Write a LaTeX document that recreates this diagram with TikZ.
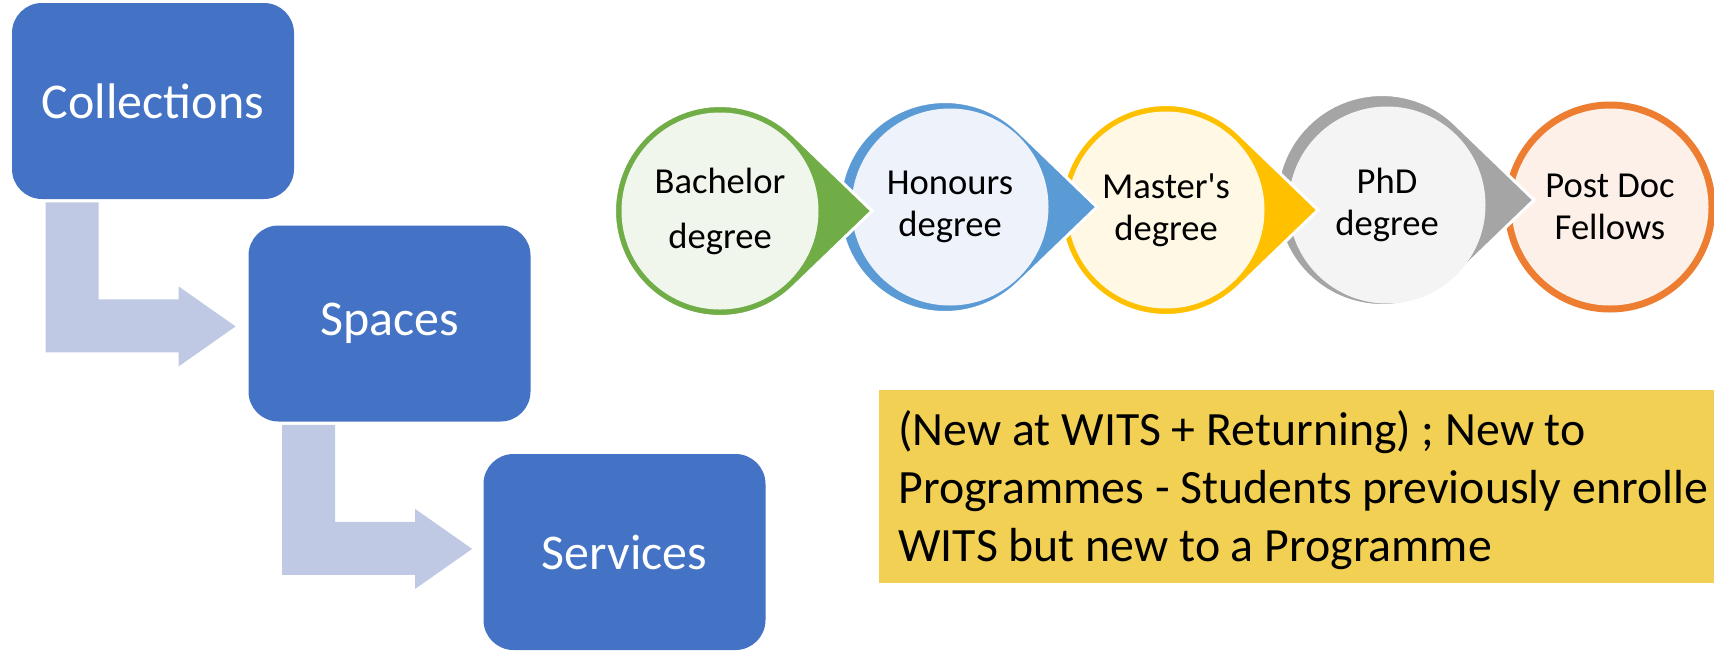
\documentclass[tikz,border=0pt]{standalone}
\usepackage{fontspec}
\setmainfont{Carlito}
\usetikzlibrary{calc,positioning}
\definecolor{boxblue}{HTML}{4472C4}
\definecolor{arrowblue}{HTML}{BFC9E4}
\definecolor{notegold}{HTML}{F2D053}
\definecolor{ring-bach}{HTML}{70AD47}
\definecolor{fill-bach}{HTML}{F0F6EC}
\definecolor{ring-hon}{HTML}{5B9BD5}
\definecolor{fill-hon}{HTML}{EEF3FB}
\definecolor{ring-mas}{HTML}{FFC000}
\definecolor{fill-mas}{HTML}{FFF8E4}
\definecolor{ring-phd}{HTML}{A5A5A5}
\definecolor{fill-phd}{HTML}{F4F4F4}
\definecolor{ring-post}{HTML}{ED7D31}
\definecolor{fill-post}{HTML}{FDF0E8}
\tikzset{
   area/.style={fill=boxblue, rounded corners=15pt, inner sep=0pt, minimum width=141pt, minimum height=98pt, text=white, font=\fontsize{25}{30}\selectfont},
   bentfill/.style={fill=arrowblue},
   stage/.style={circle, inner sep=0pt, minimum size=98.5pt, align=center},
   drop/.style={draw=white, line width=1.5pt},
   note/.style={fill=notegold, inner sep=0pt}
}
% bent block arrow hanging under a box
\newcommand{\bentarrow}[1]{\fill[bentfill] ($(#1.south west)+(34,3)$) -- ++(53,0) -- ++(0,97) -- ++(80,0) -- ++(0,-13) -- ++(57,40) -- ++(-57,40) -- ++(0,-14) -- ++(-133,0) -- cycle;}
\begin{document}
\begin{tikzpicture}[x=0.5pt,y=-0.5pt]
   \path[use as bounding box] (0,0) rectangle (1714,650);
   \clip (0,0) rectangle (1714,650);
       % left: the three blue boxes
          \node[area] (coll) at (153,101) {Collections};
          \node[area] (spaces) at (389.5,323.5) {Spaces};
          \node[area] (services) at (624.5,552) {Services};
   \bentarrow{coll}
   \bentarrow{spaces}
       % right: degree chain, drawn from the right so each tip lies on top
          \coordinate (posto) at (1610,207);
          \fill[ring-post] (posto) circle[radius=105.5];
          \node[stage, fill=fill-post, font=\fontsize{18.3}{21}\selectfont] (post) at (posto) {Post Doc\\Fellows};
                    \foreach \nm/\px/\py/\ox/\oy/\ls/\txt in {phd/1387/205/-5/-5/21/{PhD\\degree},
                       mas/1166/210/0/0/21/{Master\textquotesingle s\\degree},
                       hon/950/207/-5/0/21/{Honours\\degree},
                       bach/720/211/0/0/27.5/{Bachelor\\degree}}
    {
          \coordinate (\nm o) at ($(\px,\py)+(\ox,\oy)$);
          \filldraw[drop, fill=ring-\nm] ($(\nm o)+(152,0)$) -- ($(\nm o)+(46:105.5)$) arc[start angle=46, end angle=314, radius=105.5] -- cycle;
          \node[stage, fill=fill-\nm, font=\fontsize{18.3}{\ls}\selectfont] (\nm) at (\px,\py) {\txt};
    }
       % yellow note, running off the right edge
   \node[note, anchor=north west, minimum width=440pt, minimum height=96.5pt] (notebox) at (879,390) {};
   \node[anchor=west, inner sep=0pt, align=left, font=\fontsize{23.9}{29}\selectfont] (notetext) at (898,490) {(New at WITS + Returning) ; New to\\Programmes - Students previously enrolle\\WITS but new to a Programme};
\end{tikzpicture}
\end{document}
